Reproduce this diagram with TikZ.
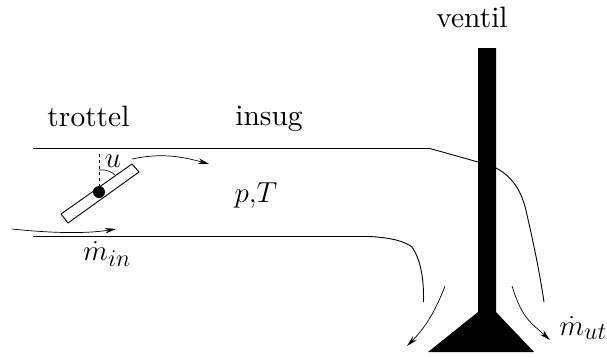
\documentclass[tikz,border=0pt]{standalone}
\usepackage{amsmath,amssymb}
\usepackage{fontspec}
\usepackage{tikz}
\usetikzlibrary{arrows.meta,calc}

\newfontfamily\lblfont{lmroman10-regular.otf}

\tikzset{
    pipe/.style={line width=0.9pt},
    flow/.style={line width=0.7pt, -{Stealth[length=11pt,width=5.5pt]}},
    lbl/.style={inner sep=0pt, font=\fontsize{29.5}{32}\lblfont},
    sym/.style={inner sep=0pt, font=\fontsize{24.88}{28}\selectfont, scale=1.165, transform shape}
}

\begin{document}
\begin{tikzpicture}[x=1pt, y=-1pt, >=Stealth]
    \useasboundingbox (0,0) rectangle (607,356);

    \node [lbl] (ventil) at (472,17) {ventil};
    \node [lbl] (trottel) at (88.5,116) {trottel};
    \node [lbl] (insug) at (269,119) {insug};
    \node [sym] (pT) at (256,195) {$p,\!T$};
    \node [sym] (u) at (113,161) {$u$};
    \node [sym] (min) at (107,254) {$\dot m_{in}$};
    \node [sym] (mut) at (583,328) {$\dot m_{ut}$};

    % insug
    \draw [pipe] (33,148.5) -- (430,148.5) -- (478,162);
    \draw [pipe] (33,236.5) -- (370,236.5) .. controls (395,238) and (405,242) .. (412,247) .. controls (421,260) and (424,280) .. (423.5,302);
    \draw [pipe] (496,168) .. controls (515,178) and (523,195) .. (527,215) .. controls (534,245) and (540,275) .. (544,302);

    % ventil
    \fill (478,48) -- (496,48) -- (496,312) -- (534,352) -- (428,352) -- (478,312) -- cycle;

    % trottel
    \draw [pipe] (61,214) -- (68,223) -- (139,172) -- (132,164) -- cycle;
    \fill (99,192) circle (6pt);
    \draw [dashed, line width=0.6pt] (99,187) -- (99,153);
    \draw [line width=0.6pt] (99,170) .. controls (106,169) and (113,172) .. (116,176);

    % flow
    \draw [flow] (132,159) .. controls (160,153) and (180,156) .. (209,164);
    \draw [flow] (12,229) .. controls (50,233) and (85,234) .. (116,229);
    \draw [flow] (445,286) .. controls (435,312) and (425,328) .. (407,346);
    \draw [flow] (512,286) .. controls (522,318) and (530,322) .. (550,340);
\end{tikzpicture}
\end{document}
